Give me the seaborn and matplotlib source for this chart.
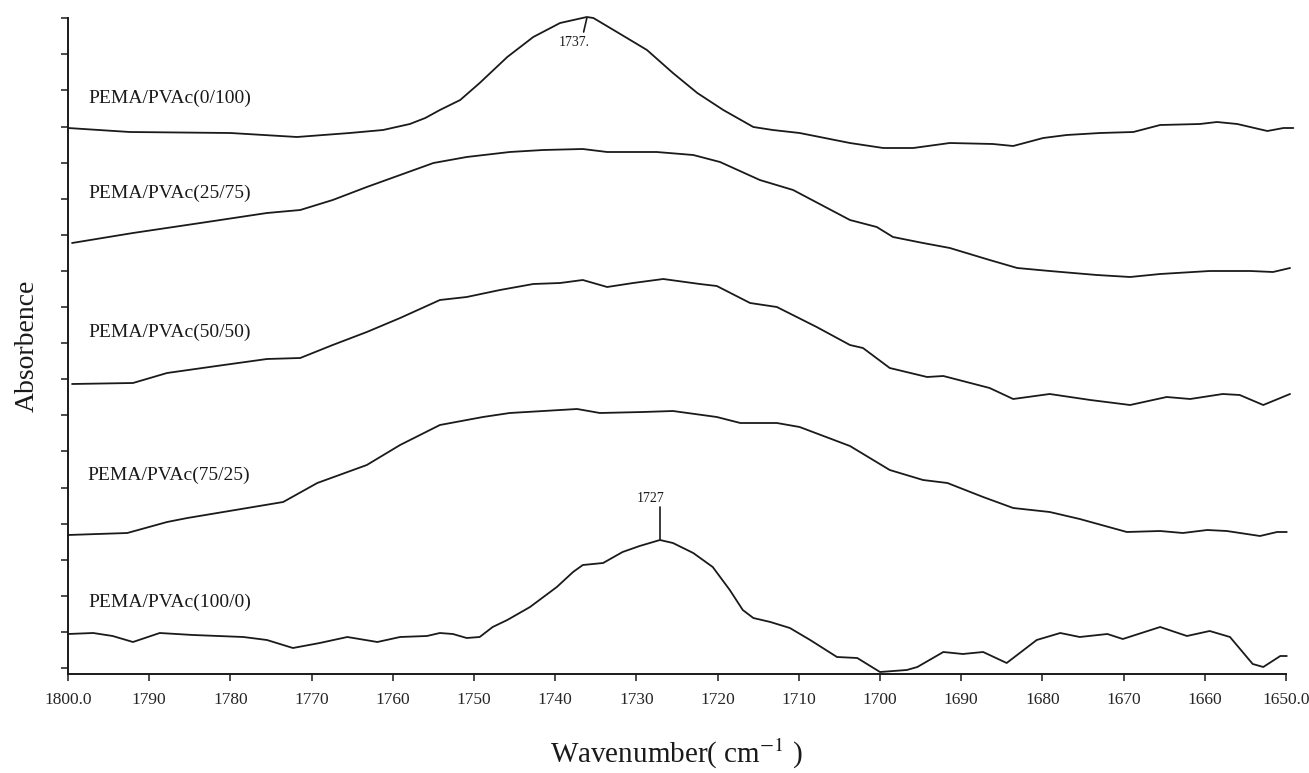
import numpy as np
import pandas as pd
import matplotlib
matplotlib.use("Agg")
import matplotlib.pyplot as plt
import seaborn as sns

# ---------------- data ----------------
labels = ["PEMA/PVAc(0/100)", "PEMA/PVAc(25/75)", "PEMA/PVAc(50/50)",
          "PEMA/PVAc(75/25)", "PEMA/PVAc(100/0)"]

wn_0_100 = [1800.0, 1792.4, 1780.0, 1771.8, 1765.3, 1761.2, 1757.9, 1756.0, 1754.2,
            1751.7, 1749.3, 1745.9, 1742.7, 1739.4, 1736.1, 1735.3, 1732.4, 1728.7,
            1725.5, 1722.5, 1719.3, 1715.6, 1713.2, 1709.9, 1703.7, 1699.6, 1695.9,
            1691.4, 1686.1, 1683.6, 1679.9, 1677.0, 1672.9, 1668.8, 1665.5, 1660.6,
            1658.5, 1656.0, 1652.3, 1650.3, 1649.1]
ab_0_100 = [5.46, 5.42, 5.41, 5.37, 5.41, 5.44, 5.50, 5.56, 5.64,
            5.74, 5.91, 6.17, 6.37, 6.51, 6.57, 6.56, 6.42, 6.24,
            6.01, 5.81, 5.64, 5.47, 5.44, 5.41, 5.31, 5.26, 5.26,
            5.31, 5.30, 5.28, 5.36, 5.39, 5.41, 5.42, 5.49, 5.50,
            5.52, 5.50, 5.43, 5.46, 5.46]

wn_25_75 = [1799.5, 1792.0, 1783.7, 1775.5, 1771.4, 1767.4, 1763.2, 1759.1, 1755.0,
            1750.9, 1745.6, 1741.5, 1736.6, 1733.6, 1727.5, 1723.0, 1719.7, 1714.8,
            1710.7, 1703.7, 1700.4, 1698.4, 1694.7, 1691.4, 1686.5, 1683.1, 1679.1,
            1673.3, 1669.2, 1665.5, 1659.4, 1654.4, 1651.6, 1649.5]
ab_25_75 = [4.31, 4.41, 4.51, 4.61, 4.64, 4.74, 4.87, 4.99, 5.11,
            5.17, 5.22, 5.24, 5.25, 5.22, 5.22, 5.19, 5.12, 4.94,
            4.84, 4.54, 4.47, 4.37, 4.31, 4.26, 4.14, 4.06, 4.03,
            3.99, 3.97, 4.00, 4.03, 4.03, 4.02, 4.06]

wn_50_50 = [1799.5, 1792.0, 1787.8, 1781.7, 1775.5, 1771.4, 1767.4, 1763.2, 1759.1,
            1754.2, 1750.9, 1746.8, 1742.7, 1739.4, 1736.6, 1733.6, 1730.4, 1726.7,
            1722.2, 1720.1, 1716.0, 1712.7, 1707.8, 1703.7, 1702.1, 1698.8, 1694.2,
            1692.2, 1686.5, 1683.6, 1679.1, 1674.1, 1669.2, 1664.7, 1661.8, 1657.8,
            1655.7, 1652.8, 1649.5]
ab_50_50 = [2.90, 2.91, 3.01, 3.08, 3.15, 3.16, 3.29, 3.42, 3.56,
            3.74, 3.77, 3.84, 3.90, 3.91, 3.94, 3.87, 3.91, 3.95,
            3.90, 3.88, 3.71, 3.67, 3.47, 3.29, 3.26, 3.06, 2.97,
            2.98, 2.86, 2.75, 2.80, 2.74, 2.69, 2.77, 2.75, 2.80,
            2.79, 2.69, 2.80]

wn_75_25 = [1800.0, 1792.7, 1787.8, 1785.3, 1773.5, 1769.3, 1763.2, 1759.1, 1754.2,
            1748.9, 1745.6, 1737.3, 1734.5, 1729.2, 1725.5, 1720.1, 1717.2, 1712.7,
            1709.9, 1703.7, 1698.8, 1694.7, 1691.7, 1687.3, 1683.6, 1679.1, 1675.4,
            1669.6, 1665.5, 1662.7, 1659.7, 1657.3, 1653.2, 1651.1, 1649.9]
ab_75_25 = [1.39, 1.41, 1.52, 1.56, 1.72, 1.91, 2.09, 2.29, 2.49,
            2.57, 2.61, 2.65, 2.61, 2.62, 2.63, 2.57, 2.51, 2.51,
            2.47, 2.28, 2.04, 1.94, 1.91, 1.77, 1.66, 1.62, 1.55,
            1.42, 1.43, 1.41, 1.44, 1.43, 1.38, 1.42, 1.42]

wn_100_0 = [1800.0, 1796.9, 1794.5, 1792.0, 1788.7, 1784.6, 1778.4, 1775.5, 1772.3,
            1769.0, 1765.6, 1761.9, 1759.1, 1755.8, 1754.2, 1752.6, 1750.9, 1749.3,
            1747.7, 1745.9, 1743.1, 1739.8, 1737.8, 1736.6, 1734.1, 1731.7, 1729.6,
            1727.1, 1725.5, 1723.0, 1720.6, 1718.5, 1716.9, 1715.6, 1713.5, 1711.1,
            1708.6, 1705.3, 1702.8, 1700.0, 1696.7, 1695.4, 1692.2, 1689.8, 1687.3,
            1684.4, 1680.7, 1677.8, 1675.4, 1672.0, 1670.1, 1665.5, 1662.2, 1659.4,
            1656.9, 1654.1, 1652.8, 1650.7, 1649.9]
ab_100_0 = [0.40, 0.41, 0.38, 0.32, 0.41, 0.39, 0.37, 0.34, 0.26,
            0.31, 0.37, 0.32, 0.37, 0.38, 0.41, 0.40, 0.36, 0.37,
            0.47, 0.54, 0.67, 0.87, 1.02, 1.09, 1.11, 1.22, 1.28,
            1.34, 1.31, 1.21, 1.07, 0.84, 0.64, 0.56, 0.52, 0.46,
            0.34, 0.17, 0.16, 0.02, 0.04, 0.07, 0.22, 0.20, 0.22,
            0.11, 0.34, 0.41, 0.37, 0.40, 0.35, 0.47, 0.38, 0.43,
            0.37, 0.10, 0.07, 0.18, 0.18]

label_pos_wn = [1797.5, 1797.5, 1797.5, 1797.6, 1797.5]
label_pos_ab = [5.76, 4.81, 3.42, 1.99, 0.72]

peak_labels = ["1737.", "1727"]
peak_wn = [1736.1, 1727.1]
peak_ab = [6.56, 1.34]

xtick_vals = list(range(1800, 1649, -10))
xtick_labels = ["1800.0"] + [str(v) for v in range(1790, 1650, -10)] + ["1650.0"]

# ---------------- styling ----------------
sns.set_style("ticks")
plt.rcParams["font.family"] = ["Liberation Serif", "DejaVu Serif"]
plt.rcParams["mathtext.fontset"] = "stix"

fig = plt.figure(figsize=(13.09, 7.73), dpi=100)
ax = fig.add_axes([68 / 1309, 1 - 674 / 773, (1286 - 68) / 1309, (674 - 18) / 773])

series = [(wn_0_100, ab_0_100), (wn_25_75, ab_25_75), (wn_50_50, ab_50_50),
          (wn_75_25, ab_75_25), (wn_100_0, ab_100_0)]
frames = []
for lab, (w, a) in zip(labels, series):
    frames.append(pd.DataFrame({"wn": w, "ab": a, "sample": lab}))
df = pd.concat(frames, ignore_index=True)

for lab in labels:
    sub = df[df["sample"] == lab]
    sns.lineplot(data=sub, x="wn", y="ab", ax=ax, color="#1a1a1a", lw=1.3,
                 sort=False, estimator=None, legend=False, clip_on=False,
                 solid_joinstyle="round")

for lab, xw, ya in zip(labels, label_pos_wn, label_pos_ab):
    ax.text(xw, ya, lab, fontsize=14, va="center", ha="left", color="#1a1a1a")

# peak annotations
ax.plot([peak_wn[0], peak_wn[0] + 0.4], [peak_ab[0], peak_ab[0] - 0.14],
        color="#1a1a1a", lw=1.2)
ax.text(peak_wn[0] + 1.5, peak_ab[0] - 0.25, peak_labels[0], fontsize=10,
        ha="center", va="center", color="#1a1a1a")
ax.plot([peak_wn[1], peak_wn[1]], [peak_ab[1], peak_ab[1] + 0.33],
        color="#1a1a1a", lw=1.2)
ax.text(peak_wn[1] + 1.1, peak_ab[1] + 0.41, peak_labels[1], fontsize=10,
        ha="center", va="center", color="#1a1a1a")

ax.set_xlim(1800, 1650)
ax.set_ylim(0, 6.56)
ax.set_xticks(xtick_vals)
ax.set_xticklabels(xtick_labels, fontsize=12.5)
ax.set_yticks(0.06 + 0.361 * np.arange(19))
ax.set_yticklabels([])
ax.tick_params(axis="both", direction="out", length=5, width=1.1, color="#1a1a1a")
ax.tick_params(axis="x", pad=8)
for s in ["top", "right"]:
    ax.spines[s].set_visible(False)
for s in ["left", "bottom"]:
    ax.spines[s].set_linewidth(1.4)
    ax.spines[s].set_color("#1a1a1a")

ax.set_xlabel(r"Wavenumber( cm$^{-1}$ )", fontsize=21, labelpad=21, color="#1a1a1a")
ax.set_ylabel("Absorbence", fontsize=20, labelpad=12, color="#1a1a1a")

fig.savefig("out.png", dpi=100, facecolor="white")
